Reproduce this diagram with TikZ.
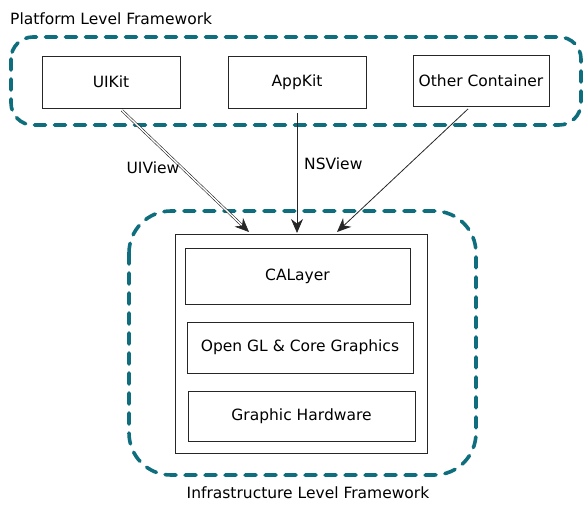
\documentclass[tikz,border=0pt]{standalone}
\usepackage{fontspec}
\setmainfont{DejaVu Sans}
\usetikzlibrary{arrows.meta}
\definecolor{teal1}{HTML}{0F6E7D}
\tikzset{
  group/.style={draw=teal1, line width=3.6pt, dash pattern=on 11pt off 9pt, line cap=round},
  sketchbox/.style={draw=black!85, line width=0.9pt, fill=white, inner sep=0pt, font=\fontsize{15.5}{17}\selectfont},
  conn/.style={draw=black!85, line width=0.8pt, -{Stealth[length=14pt,width=12pt]}},
  lbl/.style={font=\fontsize{15.5}{17}\selectfont, inner sep=0pt},
}
\begin{document}
\begin{tikzpicture}[x=1pt,y=-1pt]
\useasboundingbox (0,0) rectangle (588,513);
% groups
\draw[group, rounded corners=22pt] (11,37) rectangle (581,125);
\draw[group, rounded corners=42pt] (129,211) rectangle (476,475);
\node[lbl, anchor=west] (ptitle) at (10,19) {Platform Level Framework};
\node[lbl] (ititle) at (308,493) {Infrastructure Level Framework};
% top boxes
\node[sketchbox, minimum width=138pt, minimum height=52pt] (uikit) at (111,82) {UIKit};
\node[sketchbox, minimum width=138pt, minimum height=52pt] (appkit) at (297,82) {AppKit};
\node[sketchbox, minimum width=136pt, minimum height=51pt] (other) at (481,81) {Other Container};
% infrastructure
\node[draw=black!85, line width=0.9pt, fill=white, minimum width=252pt, minimum height=219pt, inner sep=0pt] (infra) at (301,343.5) {};
\node[sketchbox, minimum width=225pt, minimum height=56pt] (calayer) at (297.5,276) {CALayer};
\node[sketchbox, minimum width=226pt, minimum height=51pt] (opengl) at (300,347.5) {Open GL \& Core Graphics};
\node[sketchbox, minimum width=227pt, minimum height=50pt] (hw) at (301.5,416) {Graphic Hardware};
% connectors
\coordinate (a1) at (249,232);
\coordinate (a2) at (297,233);
\coordinate (a3) at (337,232);
\draw[conn, double=white, double distance=1.4pt, line width=0.6pt] (uikit.south) ++(11,2) coordinate (s1) -- (a1);
\draw[conn] (appkit.south) ++(0,5) -- (a2);
\draw[conn] (other.south) ++(-13,2) -- (a3);
\node[lbl, anchor=center] (uiview) at (153,168) {UIView};
\node[lbl, anchor=west] (nsview) at (304,164) {NSView};
\end{tikzpicture}
\end{document}
